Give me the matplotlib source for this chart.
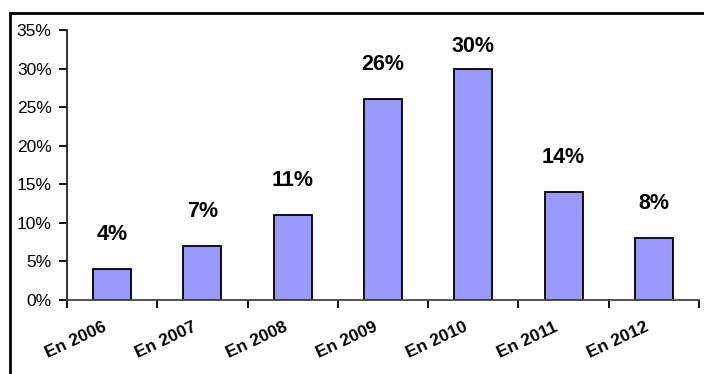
import matplotlib.pyplot as plt
import matplotlib.patches as mpatches
import numpy as np

years = ['En 2006', 'En 2007', 'En 2008', 'En 2009', 'En 2010', 'En 2011', 'En 2012']
values = [4, 7, 11, 26, 30, 14, 8]

plt.rcParams['font.family'] = ['Liberation Sans', 'DejaVu Sans']

fig = plt.figure(figsize=(7.04, 3.74), dpi=100)
ax = fig.add_axes([67 / 704, 1 - 300 / 374, 632 / 704, 270 / 374])

# outer chart frame (cropped at right/bottom)
fig.patches.append(mpatches.Rectangle((10 / 704, -0.2), 1.2, 0.2 + 1 - 13 / 374,
                                      transform=fig.transFigure, fill=False,
                                      edgecolor='black', linewidth=2, zorder=0))

index = np.arange(len(years))
ax.bar(index, values, width=0.42, color='#9999FF', edgecolor='black', linewidth=1.3)

for i, v in enumerate(values):
    ax.text(i, min(v + 4.5, 32.9), '%d%%' % v, ha='center', va='center',
            fontsize=15.5, fontweight='bold')

ax.set_xlim(-0.5, len(years) - 0.5)
ax.set_ylim(0, 35)
ax.set_yticks(np.arange(0, 36, 5))
ax.set_yticklabels(['%d%%' % t for t in range(0, 36, 5)], fontsize=12.5)
ax.set_xticks(np.arange(-0.5, len(years), 1))
ax.set_xticklabels([])
ax.tick_params(axis='x', length=6, width=1.3, direction='out')
ax.tick_params(axis='y', length=6, width=1.3, direction='out', pad=5)

for i, lab in enumerate(years):
    ax.annotate(lab, xy=(i, 0), xycoords=('data', 'axes fraction'),
                xytext=(-7, -14), textcoords='offset points',
                rotation=25, ha='right', va='top', rotation_mode='anchor',
                fontsize=12.5, fontweight='bold')

ax.spines['top'].set_visible(False)
ax.spines['right'].set_visible(False)
ax.spines['left'].set_color('#222222')
ax.spines['bottom'].set_color('#444444')
ax.spines['left'].set_linewidth(1.3)
ax.spines['bottom'].set_linewidth(1.3)

plt.savefig('out.png', dpi=100)
